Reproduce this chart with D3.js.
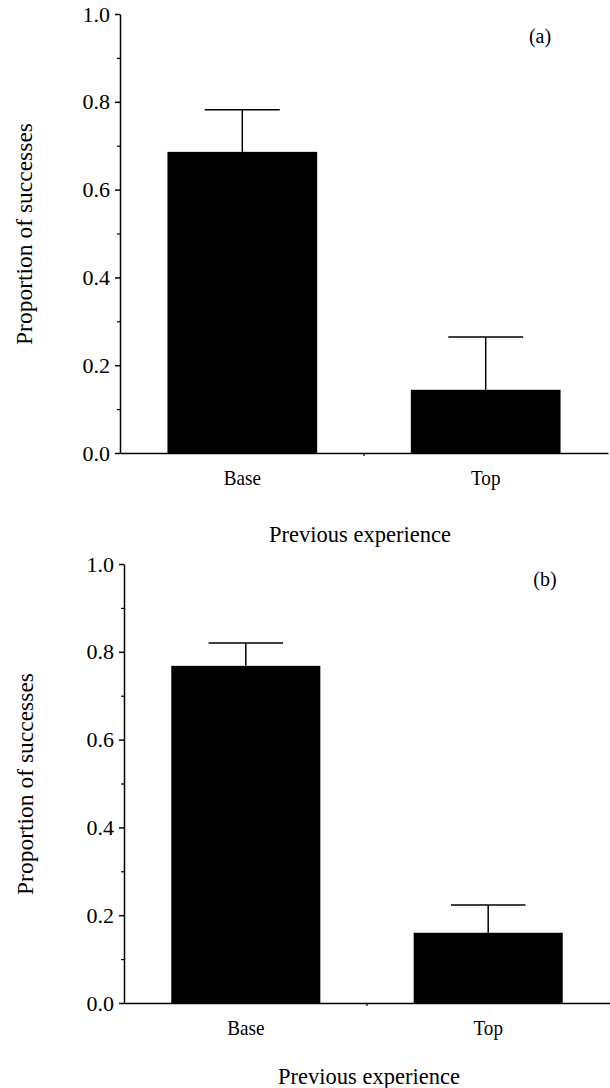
<!DOCTYPE html>
<html lang="en">
<head>
	<meta charset="UTF-8">
	<title>Proportion of successes</title>
	<script src="https://cdn.jsdelivr.net/npm/d3@7/dist/d3.min.js"></script>
	<style>
		body { margin: 0; background: #fff; }
		svg { display: block; }
		text { font-family: "Liberation Serif", "Times New Roman", serif; fill: #000; }
	</style>
</head>
<body>
<svg width="610" height="1088"></svg>
<script>
	// data
	const categories = ["Base", "Top"];
	const meansA = [0.686, 0.144];
	const errA = [0.096, 0.120];
	const meansB = [0.768, 0.160];
	const errB = [0.052, 0.063];
	const yTicks = [0, 0.2, 0.4, 0.6, 0.8, 1.0];
	const yMinor = [0.1, 0.3, 0.5, 0.7, 0.9];

	const svg = d3.select("svg");

	// panel layout (pixels)
	const panels = [
		{ label: "(a)", means: meansA, errs: errA, left: 120, right: 608, bottom: 453, top: 14, labelX: 540, labelY: 43, titleX: 360, titleY: 542, yTitleX: 32, yTitleY: 234 },
		{ label: "(b)", means: meansB, errs: errB, left: 124, right: 610, bottom: 1003, top: 564, labelX: 545, labelY: 586, titleX: 369, titleY: 1084, yTitleX: 33, yTitleY: 784 }
	];

	panels.forEach(function(p) {
		const g = svg.append("g");

		const x = d3.scaleBand()
			.domain(categories)
			.range([p.left, p.right])
			.paddingInner(0.385)
			.paddingOuter(0.195);

		const y = d3.scaleLinear()
			.domain([0, 1])
			.range([p.bottom, p.top]);

		const rows = categories.map((c, i) => ({ cat: c, mean: p.means[i], err: p.errs[i] }));

		// bars
		g.selectAll("rect.bar")
			.data(rows)
			.enter()
			.append("rect")
			.attr("class", "bar")
			.attr("x", d => x(d.cat))
			.attr("width", x.bandwidth())
			.attr("y", d => y(d.mean))
			.attr("height", d => y(0) - y(d.mean))
			.attr("fill", "#000");

		// error bars (upper only)
		const eb = g.selectAll("g.err")
			.data(rows)
			.enter()
			.append("g")
			.attr("class", "err")
			.attr("stroke", "#000")
			.attr("stroke-width", 1.5);

		eb.append("line")
			.attr("x1", d => x(d.cat) + x.bandwidth() / 2)
			.attr("x2", d => x(d.cat) + x.bandwidth() / 2)
			.attr("y1", d => y(d.mean))
			.attr("y2", d => y(d.mean + d.err));

		eb.append("line")
			.attr("x1", d => x(d.cat) + x.bandwidth() * 0.25)
			.attr("x2", d => x(d.cat) + x.bandwidth() * 0.75)
			.attr("y1", d => y(d.mean + d.err))
			.attr("y2", d => y(d.mean + d.err));

		// y axis
		const yAxis = g.append("g")
			.attr("transform", `translate(${p.left},0)`)
			.call(d3.axisLeft(y).tickValues(yTicks).tickFormat(d3.format(".1f")).tickSize(5).tickPadding(5).tickSizeOuter(0));
		yAxis.select(".domain").attr("stroke-width", 1.5);
		yAxis.selectAll(".tick line").attr("stroke-width", 1.5);
		yAxis.selectAll("text")
			.style("font-family", "'Liberation Serif', serif")
			.style("font-size", "22px");

		g.append("g")
			.attr("transform", `translate(${p.left},0)`)
			.call(d3.axisLeft(y).tickValues(yMinor).tickFormat("").tickSize(3).tickSizeOuter(0))
			.call(a => a.select(".domain").remove())
			.selectAll(".tick line").attr("stroke-width", 1.2);

		// x axis
		const xAxis = g.append("g")
			.attr("transform", `translate(0,${p.bottom})`)
			.call(d3.axisBottom(x).tickSize(0).tickSizeOuter(0));
		xAxis.select(".domain").attr("stroke-width", 1.5);
		xAxis.selectAll("text")
			.attr("y", 32)
			.attr("dy", 0)
			.attr("transform", "scale(0.87,1)")
			.style("font-family", "'Liberation Serif', serif")
			.style("font-size", "22px");

		// small tick between the categories
		const mid = (x(categories[0]) + x.bandwidth() + x(categories[1])) / 2;
		g.append("line")
			.attr("x1", mid).attr("x2", mid)
			.attr("y1", p.bottom).attr("y2", p.bottom + 3)
			.attr("stroke", "#000")
			.attr("stroke-width", 1.2);

		// titles
		g.append("text")
			.attr("x", p.titleX)
			.attr("y", p.titleY)
			.attr("text-anchor", "middle")
			.style("font-size", "22.5px")
			.text("Previous experience");

		g.append("text")
			.attr("transform", `translate(${p.yTitleX},${p.yTitleY}) rotate(-90)`)
			.attr("text-anchor", "middle")
			.style("font-size", "23.5px")
			.text("Proportion of successes");

		g.append("text")
			.attr("x", p.labelX)
			.attr("y", p.labelY)
			.attr("text-anchor", "middle")
			.style("font-size", "20px")
			.text(p.label);
	});
</script>
</body>
</html>
